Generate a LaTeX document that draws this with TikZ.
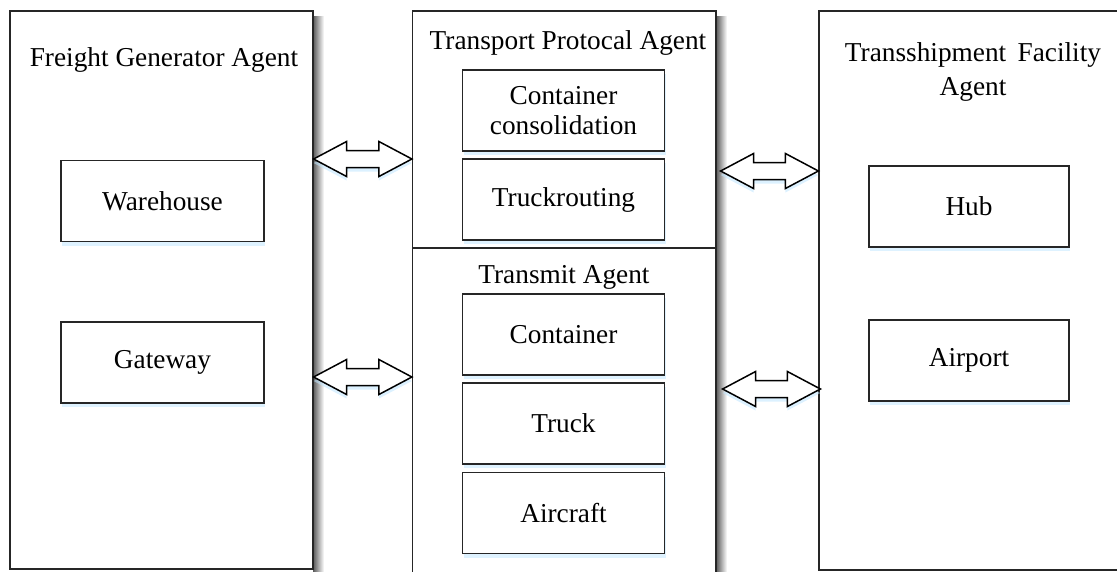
\documentclass[tikz,border=0pt]{standalone}
\usepackage{fontspec}
\setmainfont{Liberation Serif}
\usetikzlibrary{calc,shadows}

\tikzset{
  agent/.style={draw=black!85, line width=1.2pt, fill=white, inner sep=0pt},
  unit/.style={draw=black!85, line width=1.1pt, fill=white, inner sep=0pt,
    minimum width=202pt, minimum height=81pt, align=center,
    font=\fontsize{27.3}{31.5}\selectfont,
    drop shadow={shadow xshift=1pt, shadow yshift=-4pt, fill=blue!40!cyan!25, opacity=0.5}},
  title/.style={inner sep=0pt, align=center, font=\fontsize{27.3}{34}\selectfont},
  sideshade/.style={left color=black!65, right color=white, draw=none},
  blockarrow/.style={draw=black, line width=1.5pt, fill=white, line join=miter,
    drop shadow={shadow xshift=0pt, shadow yshift=-4pt, fill=blue!40!cyan!25, opacity=0.55}},
}

% double block arrow between two named tip coordinates
\newcommand\dblblockarrow[2]{%
  \path[blockarrow] (#1) -- ($(#1)+(33,-17.5)$) -- ($(#1)+(33,-8.5)$)
    -- ($(#2)+(-33,-8.5)$) -- ($(#2)+(-33,-17.5)$) -- (#2)
    -- ($(#2)+(-33,17.5)$) -- ($(#2)+(-33,8.5)$)
    -- ($(#1)+(33,8.5)$) -- ($(#1)+(33,17.5)$) -- cycle;}

\begin{document}
\begin{tikzpicture}[x=1pt, y=-1pt]
\useasboundingbox (0,0) rectangle (1117,571);

% shaded right-hand edges of the agent panels
\fill[sideshade] (313,16) rectangle (324,580);
\fill[sideshade] (716,16) rectangle (727,580);

% agent panels
\node[agent, minimum width=303pt, minimum height=558pt] (fga) at (161.5,290) {};
\node[agent, minimum width=303.5pt, minimum height=580pt] (mid) at (564.25,301) {};
\node[agent, minimum width=312pt, minimum height=559pt] (tfa) at (975,290.5) {};
\coordinate (divL) at (412.5,248);
\coordinate (divR) at (716,248);
\draw[black!85, line width=1.2pt] (divL) -- (divR);

% panel titles
\node[title] (fgat) at (164,60) {Freight Generator Agent};
\node[title] (tpat) at (568,43) {Transport Protocal Agent};
\node[title] (tat) at (564,277) {Transmit Agent};
\node[title] (tfat) at (973,72) {Transshipment\, Facility\\Agent};

% units inside the panels
\node[unit, minimum width=203pt] (wh) at (162.5,201) {Warehouse};
\node[unit, minimum width=203pt] (gw) at (162.5,362.5) {Gateway};
\node[unit] (cc) at (563.5,110.5) {Container\\[-1pt]consolidation};
\node[unit] (tr) at (563.5,199.5) {Truckrouting};
\node[unit] (ct) at (563.5,334.5) {Container};
\node[unit] (tk) at (563.5,423.5) {Truck};
\node[unit] (ac) at (563.5,513) {Aircraft};
\node[unit, minimum width=200pt] (hub) at (969,206.5) {Hub};
\node[unit, minimum width=200pt] (ap) at (969,360.5) {Airport};

% message exchange between the panels
\coordinate (a1l) at ($(fga.east |- 0,159)$);
\coordinate (a1r) at ($(mid.west |- 0,159)$);
\coordinate (a2l) at ($(fga.east |- 0,377)$);
\coordinate (a2r) at ($(mid.west |- 0,377)$);
\coordinate (a3l) at ($(mid.east |- 0,171)+(4,0)$);
\coordinate (a3r) at ($(tfa.west |- 0,171)$);
\coordinate (a4l) at ($(mid.east |- 0,389)+(6,0)$);
\coordinate (a4r) at ($(tfa.west |- 0,389)+(2,0)$);
\dblblockarrow{a1l}{a1r}
\dblblockarrow{a2l}{a2r}
\dblblockarrow{a3l}{a3r}
\dblblockarrow{a4l}{a4r}
\end{tikzpicture}
\end{document}
